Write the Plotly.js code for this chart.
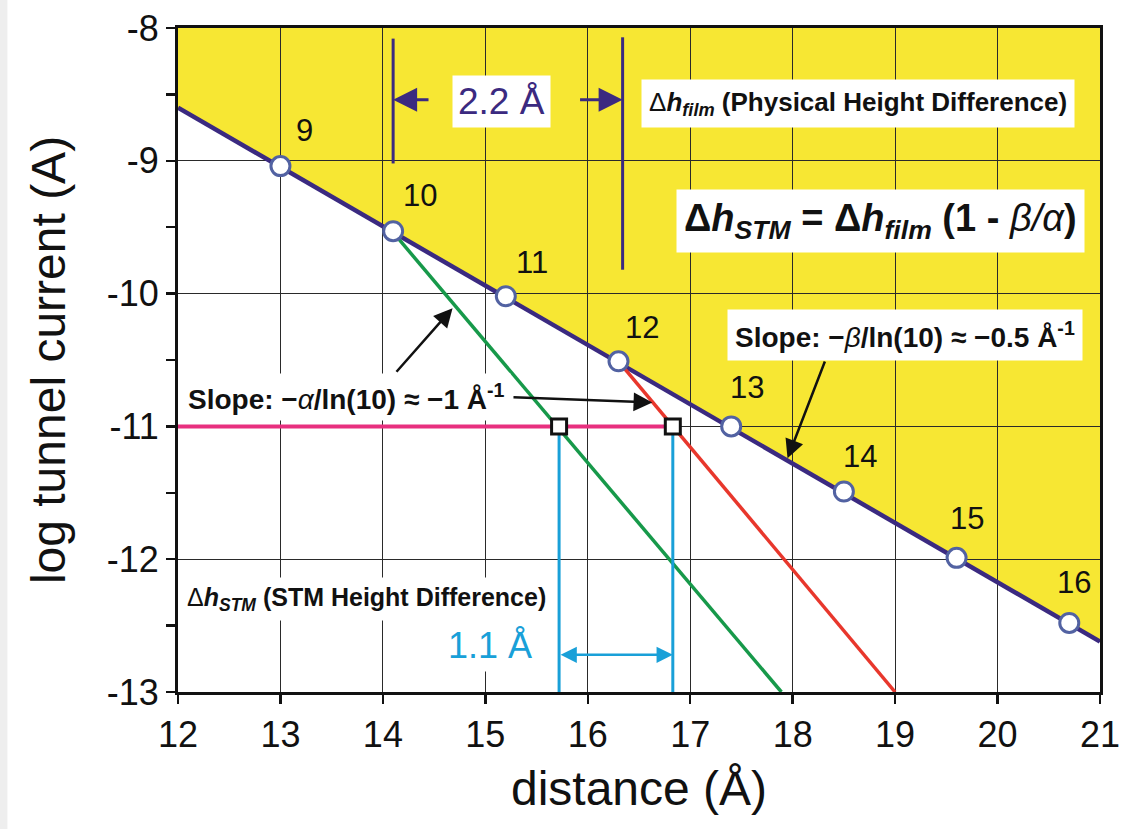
<!DOCTYPE html>
<html>
<head>
<meta charset="utf-8">
<script src="https://cdn.plot.ly/plotly-3.0.1.min.js"></script>
<style>html,body{margin:0;padding:0;background:#fff;}#chart{width:1127px;height:829px;}</style>
</head>
<body>
<div id="chart"></div>
<script>
// ---- data ----
const filmX = [13, 14.1, 15.2, 16.3, 17.4, 18.5, 19.6, 20.7];
const filmY = [-9.04, -9.53, -10.02, -10.51, -11.0, -11.49, -11.99, -12.48];
const filmLabels = ['9', '10', '11', '12', '13', '14', '15', '16'];

const filmLineX = [12, 21];
const filmLineY = [-8.6, -12.62];

const alphaLineX = [14.09, 17.89];
const alphaLineY = [-9.53, -13];

const betaLineX = [16.3, 19.0];
const betaLineY = [-10.51, -13];

const currentSetX = [12, 16.83];
const currentSetY = [-11, -11];

const crossX = [15.72, 16.83];
const crossY = [-11, -11];

const stmLeftX = [15.72, 15.72];
const stmRightX = [16.83, 16.83];
const stmVertY = [-11, -13];

const filmLeftX = [14.1, 14.1];
const filmLeftY = [-8.08, -9.02];
const filmRightX = [16.34, 16.34];
const filmRightY = [-8.07, -9.82];

const xRange = [12, 21];
const yRange = [-13, -8];
const yTickVals = [-13, -12, -11, -10, -9, -8];
const yTickText = ['-13', '-12', '-11', '-10', '-9', '-8'];
const xTickVals = [12, 13, 14, 15, 16, 17, 18, 19, 20, 21];

// ---- styles ----
const PURPLE = '#3b2a80';
const CYAN = '#19a0d8';
const YELLOW = '#f7e733';
const NARROW = '"Liberation Sans Narrow", "Arial Narrow", "Liberation Sans", Arial, sans-serif';
const SANS = '"Liberation Sans", Arial, Helvetica, sans-serif';

const traces = [
  {x: filmLineX, y: filmLineY, mode: 'lines', line: {color: PURPLE, width: 4.5}, hoverinfo: 'skip'},
  {x: alphaLineX, y: alphaLineY, mode: 'lines', line: {color: '#17994a', width: 3.5}, hoverinfo: 'skip'},
  {x: betaLineX, y: betaLineY, mode: 'lines', line: {color: '#e8372c', width: 3.5}, hoverinfo: 'skip'},
  {x: currentSetX, y: currentSetY, mode: 'lines', line: {color: '#e8307f', width: 4}, hoverinfo: 'skip'},
  {x: stmLeftX, y: stmVertY, mode: 'lines', line: {color: CYAN, width: 3}, hoverinfo: 'skip'},
  {x: stmRightX, y: stmVertY, mode: 'lines', line: {color: CYAN, width: 3}, hoverinfo: 'skip'},
  {x: filmLeftX, y: filmLeftY, mode: 'lines', line: {color: PURPLE, width: 3}, hoverinfo: 'skip'},
  {x: filmRightX, y: filmRightY, mode: 'lines', line: {color: PURPLE, width: 3}, hoverinfo: 'skip'},
  {x: crossX, y: crossY, mode: 'markers', marker: {symbol: 'square', size: 15, color: '#ffffff', line: {color: '#111111', width: 3}}, hoverinfo: 'skip'},
  {x: filmX, y: filmY, mode: 'markers', marker: {symbol: 'circle', size: 19, color: '#ffffff', line: {color: '#5262a2', width: 3}}, hoverinfo: 'skip'}
];

// yellow region above the film line, built from the line data and axis range
const fillPath = 'M ' + filmLineX[0] + ',' + filmLineY[0] +
  ' L ' + filmLineX[1] + ',' + filmLineY[1] +
  ' L ' + xRange[1] + ',' + yRange[1] +
  ' L ' + xRange[0] + ',' + yRange[1] + ' Z';

const labelShift = [[24, 36], [27, 36], [26, 34], [23, 34], [16, 39], [16, 35], [10, 39], [5, 40]];

const annotations = [];
filmLabels.forEach((t, i) => {
  annotations.push({x: filmX[i], y: filmY[i], text: t, showarrow: false,
    xshift: labelShift[i][0], yshift: labelShift[i][1],
    font: {family: SANS, size: 31, color: '#111111'}});
});

annotations.push(
  // 2.2 Å box
  {x: 15.16, y: -8.55, text: '2.2 Å', showarrow: false, bgcolor: '#ffffff', borderpad: 5,
   font: {family: SANS, size: 37, color: PURPLE}},
  // purple arrows
  {x: filmLeftX[0], y: -8.54, ax: 14.46, ay: -8.54, axref: 'x', ayref: 'y', text: '', showarrow: true,
   arrowhead: 2, arrowsize: 1.6, arrowwidth: 3, arrowcolor: PURPLE},
  {x: filmRightX[0], y: -8.54, ax: 15.91, ay: -8.54, axref: 'x', ayref: 'y', text: '', showarrow: true,
   arrowhead: 2, arrowsize: 1.6, arrowwidth: 3, arrowcolor: PURPLE},
  // Δh_film label
  {x: 18.64, y: -8.565, text: 'Δ<b><i>h<sub>film</sub></i> (Physical Height Difference)</b>', showarrow: false,
   bgcolor: '#ffffff', borderpad: 7, font: {family: SANS, size: 26, color: '#111111'}},
  // formula
  {x: 18.86, y: -9.455, text: '<b>Δ<i>h<sub>STM</sub></i> = Δ<i>h<sub>film</sub></i> (1 - </b><i>β/α</i><b>)</b>', showarrow: false,
   bgcolor: '#ffffff', borderpad: 7, font: {family: SANS, size: 38, color: '#111111'}},
  // slope beta
  {x: 19.1, y: -10.31, text: '<b>Slope: −</b><i>β</i><b>/ln(10) ≈ −0.5 Å<sup>-1</sup></b>', showarrow: false,
   bgcolor: '#ffffff', borderpad: 7, font: {family: SANS, size: 28, color: '#111111'}},
  {x: 17.95, y: -11.24, ax: 18.32, ay: -10.50, axref: 'x', ayref: 'y', text: '', showarrow: true,
   arrowhead: 2, arrowsize: 1.5, arrowwidth: 2.5, arrowcolor: '#111111'},
  // slope alpha
  {x: 13.64, y: -10.78, text: '<b>Slope: −</b><i>α</i><b>/ln(10) ≈ −1 Å<sup>-1</sup></b>', showarrow: false,
   bgcolor: '#ffffff', borderpad: 5, font: {family: SANS, size: 28, color: '#111111'}},
  {x: 14.68, y: -10.11, ax: 14.12, ay: -10.60, axref: 'x', ayref: 'y', text: '', showarrow: true,
   arrowhead: 2, arrowsize: 1.5, arrowwidth: 2.5, arrowcolor: '#111111'},
  {x: 16.63, y: -10.82, ax: 15.26, ay: -10.78, axref: 'x', ayref: 'y', text: '', showarrow: true,
   arrowhead: 2, arrowsize: 1.5, arrowwidth: 2.5, arrowcolor: '#111111'},
  // STM height difference
  {x: 13.84, y: -12.3, text: 'Δ<b><i>h<sub>STM</sub></i> (STM Height Difference)</b>', showarrow: false,
   bgcolor: '#ffffff', borderpad: 5, font: {family: SANS, size: 25, color: '#111111'}},
  {x: 15.05, y: -12.65, text: '1.1 Å', showarrow: false, bgcolor: '#ffffff', borderpad: 5,
   font: {family: SANS, size: 36, color: CYAN}},
  {x: stmRightX[0], y: -12.72, ax: stmLeftX[0], ay: -12.72, axref: 'x', ayref: 'y', text: '', showarrow: true,
   arrowhead: 2, startarrowhead: 2, arrowside: 'end+start', arrowsize: 1.3, startarrowsize: 1.3, arrowwidth: 2.5, arrowcolor: CYAN}
);

const layout = {
  width: 1127, height: 829,
  margin: {l: 178, r: 27, t: 28, b: 137},
  paper_bgcolor: '#ffffff', plot_bgcolor: '#ffffff',
  showlegend: false,
  font: {family: NARROW, color: '#111111'},
  xaxis: {
    range: xRange, tickvals: xTickVals, ticks: 'outside', ticklen: 9, tickwidth: 2.5, tickcolor: '#111111',
    showline: true, linewidth: 3, linecolor: '#111111', mirror: true,
    showgrid: true, gridcolor: '#2a2a2a', gridwidth: 1.2, zeroline: false,
    tickfont: {family: NARROW, size: 36, color: '#111111'},
    title: {text: 'distance (Å)', font: {family: NARROW, size: 48, color: '#111111'}, standoff: 18}
  },
  yaxis: {
    range: yRange, tickvals: yTickVals, ticktext: yTickText, ticks: 'outside', ticklen: 9, tickwidth: 2.5, tickcolor: '#111111',
    minor: {dtick: 0.5, ticks: 'outside', ticklen: 9, tickwidth: 2.5, tickcolor: '#111111', showgrid: false},
    showline: true, linewidth: 3, linecolor: '#111111', mirror: true,
    showgrid: true, gridcolor: '#2a2a2a', gridwidth: 1.2, zeroline: false,
    tickfont: {family: NARROW, size: 36, color: '#111111'},
    title: {text: 'log tunnel current (A)', font: {family: NARROW, size: 48, color: '#111111'}, standoff: 26}
  },
  shapes: [
    {type: 'path', path: fillPath, xref: 'x', yref: 'y', fillcolor: YELLOW, line: {width: 0}, layer: 'below'},
    {type: 'rect', xref: 'paper', yref: 'paper', x0: -0.193, x1: -0.185, y0: -0.21, y1: 1.05,
     fillcolor: '#eeeeee', line: {width: 0}, layer: 'below'}
  ],
  annotations: annotations
};

Plotly.newPlot('chart', traces, layout, {displayModeBar: false, staticPlot: true});
</script>
</body>
</html>
